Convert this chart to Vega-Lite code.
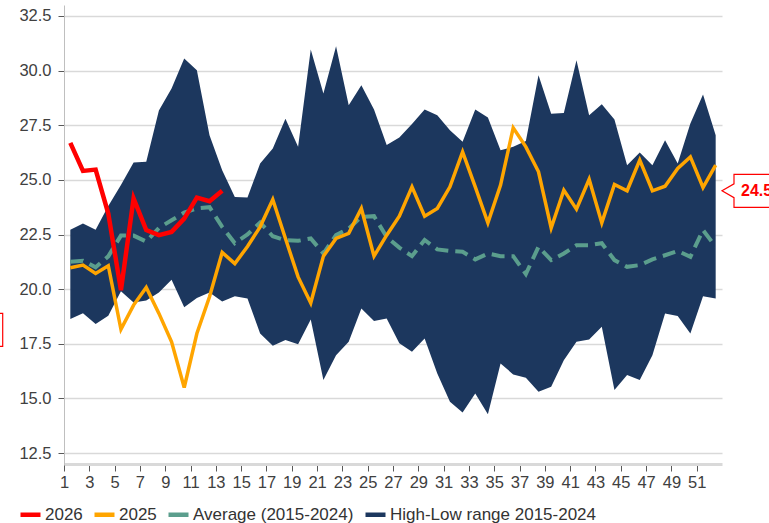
{
  "$schema": "https://vega.github.io/schema/vega-lite/v6.json",
  "width": 658,
  "height": 459,
  "autosize": "none",
  "padding": {"left": 64, "top": 5, "right": 47, "bottom": 59},
  "background": "white",
  "config": {"view": {"stroke": null}, "font": "Liberation Sans"},
  "datasets": {
    "weeks": [
      {"w":1,"lo":18.63,"hi":22.72,"avg":21.25,"y25":20.98,"y26":26.69},
      {"w":2,"lo":18.90,"hi":23.0,"avg":21.3,"y25":21.10,"y26":25.41},
      {"w":3,"lo":18.41,"hi":22.72,"avg":21.0,"y25":20.72,"y26":25.47},
      {"w":4,"lo":18.78,"hi":23.8,"avg":21.5,"y25":21.07,"y26":23.46},
      {"w":5,"lo":19.9,"hi":24.77,"avg":22.45,"y25":18.16,"y26":19.95},
      {"w":6,"lo":19.39,"hi":25.79,"avg":22.45,"y25":19.27,"y26":24.15},
      {"w":7,"lo":19.48,"hi":25.83,"avg":22.18,"y25":20.08,"y26":22.70},
      {"w":8,"lo":19.85,"hi":28.17,"avg":22.8,"y25":18.89,"y26":22.47},
      {"w":9,"lo":20.43,"hi":29.18,"avg":23.15,"y25":17.59,"y26":22.62},
      {"w":10,"lo":19.17,"hi":30.55,"avg":23.5,"y25":15.5,"y26":23.23},
      {"w":11,"lo":19.59,"hi":30.02,"avg":23.7,"y25":17.97,"y26":24.19},
      {"w":12,"lo":19.85,"hi":27.04,"avg":23.75,"y25":19.65,"y26":24.02},
      {"w":13,"lo":19.43,"hi":25.44,"avg":22.85,"y25":21.68,"y26":24.50},
      {"w":14,"lo":19.68,"hi":24.22,"avg":22.1,"y25":21.17,"y26":null},
      {"w":15,"lo":19.57,"hi":24.19,"avg":22.5,"y25":21.95,"y26":null},
      {"w":16,"lo":17.97,"hi":25.75,"avg":23.05,"y25":22.85,"y26":null},
      {"w":17,"lo":17.41,"hi":26.43,"avg":22.42,"y25":24.10,"y26":null},
      {"w":18,"lo":17.67,"hi":27.80,"avg":22.24,"y25":22.32,"y26":null},
      {"w":19,"lo":17.48,"hi":26.51,"avg":22.21,"y25":20.56,"y26":null},
      {"w":20,"lo":18.61,"hi":30.96,"avg":22.32,"y25":19.37,"y26":null},
      {"w":21,"lo":15.84,"hi":28.95,"avg":21.63,"y25":21.51,"y26":null},
      {"w":22,"lo":16.98,"hi":31.11,"avg":22.47,"y25":22.32,"y26":null},
      {"w":23,"lo":17.59,"hi":28.41,"avg":22.77,"y25":22.55,"y26":null},
      {"w":24,"lo":19.12,"hi":29.33,"avg":23.31,"y25":23.69,"y26":null},
      {"w":25,"lo":18.54,"hi":28.22,"avg":23.34,"y25":21.51,"y26":null},
      {"w":26,"lo":18.66,"hi":26.59,"avg":22.39,"y25":22.47,"y26":null},
      {"w":27,"lo":17.52,"hi":26.94,"avg":21.9,"y25":23.34,"y26":null},
      {"w":28,"lo":17.13,"hi":27.55,"avg":21.51,"y25":24.68,"y26":null},
      {"w":29,"lo":17.74,"hi":28.22,"avg":22.25,"y25":23.34,"y26":null},
      {"w":30,"lo":16.14,"hi":27.96,"avg":21.82,"y25":23.69,"y26":null},
      {"w":31,"lo":14.85,"hi":27.27,"avg":21.75,"y25":24.68,"y26":null},
      {"w":32,"lo":14.36,"hi":26.74,"avg":21.71,"y25":26.28,"y26":null},
      {"w":33,"lo":15.23,"hi":28.22,"avg":21.36,"y25":24.68,"y26":null},
      {"w":34,"lo":14.28,"hi":27.85,"avg":21.63,"y25":23.03,"y26":null},
      {"w":35,"lo":16.60,"hi":26.36,"avg":21.51,"y25":24.76,"y26":null},
      {"w":36,"lo":16.10,"hi":26.51,"avg":21.51,"y25":27.38,"y26":null},
      {"w":37,"lo":15.95,"hi":26.78,"avg":20.69,"y25":26.51,"y26":null},
      {"w":38,"lo":15.30,"hi":29.79,"avg":21.94,"y25":25.37,"y26":null},
      {"w":39,"lo":15.53,"hi":28.03,"avg":21.33,"y25":22.80,"y26":null},
      {"w":40,"lo":16.75,"hi":28.06,"avg":21.63,"y25":24.53,"y26":null},
      {"w":41,"lo":17.59,"hi":30.47,"avg":22.01,"y25":23.66,"y26":null},
      {"w":42,"lo":17.70,"hi":27.96,"avg":22.01,"y25":25.03,"y26":null},
      {"w":43,"lo":18.28,"hi":28.46,"avg":22.1,"y25":23.03,"y26":null},
      {"w":44,"lo":15.38,"hi":27.76,"avg":21.33,"y25":24.79,"y26":null},
      {"w":45,"lo":16.07,"hi":25.67,"avg":21.02,"y25":24.50,"y26":null},
      {"w":46,"lo":15.84,"hi":26.25,"avg":21.1,"y25":25.90,"y26":null},
      {"w":47,"lo":16.98,"hi":25.67,"avg":21.36,"y25":24.50,"y26":null},
      {"w":48,"lo":18.89,"hi":26.81,"avg":21.55,"y25":24.71,"y26":null},
      {"w":49,"lo":18.77,"hi":25.75,"avg":21.75,"y25":25.52,"y26":null},
      {"w":50,"lo":17.97,"hi":27.58,"avg":21.48,"y25":26.05,"y26":null},
      {"w":51,"lo":19.68,"hi":28.90,"avg":22.7,"y25":24.65,"y26":null},
      {"w":52,"lo":19.57,"hi":27.04,"avg":21.94,"y25":25.67,"y26":null}
    ],
    "callR": [{"w": 52.5, "v": 24.5, "label": "24.5"}],
    "callL": [{"w": 0.5, "v": 18.14}]
  },
  "data": {"name": "weeks"},
  "encoding": {
    "x": {
      "field": "w", "type": "quantitative",
      "scale": {"domain": [0.5, 52.5], "nice": false, "zero": false},
      "axis": {
        "title": null,
        "values": [0.5,2.5,4.5,6.5,8.5,10.5,12.5,14.5,16.5,18.5,20.5,22.5,24.5,26.5,28.5,30.5,32.5,34.5,36.5,38.5,40.5,42.5,44.5,46.5,48.5,50.5],
        "labelExpr": "format(datum.value + 0.5, 'd')",
        "grid": false,
        "domainColor": "#d9d9d9", "domainWidth": 3,
        "tickColor": "#595959", "tickSize": 7, "tickWidth": 1,
        "labelFontSize": 16.5, "labelColor": "#404040", "labelPadding": 3,
        "labelFlush": false, "labelOverlap": false
      }
    }
  },
  "layer": [
    {
      "mark": {"type": "area", "opacity": 1},
      "encoding": {
        "y": {
          "field": "lo", "type": "quantitative", "title": null,
          "scale": {"domain": [12, 33], "nice": false, "zero": false},
          "axis": {
            "values": [12.5,15,17.5,20,22.5,25,27.5,30,32.5],
            "format": ".1f",
            "grid": true, "gridColor": "#d9d9d9", "gridWidth": 1.5,
            "domainColor": "#bfbfbf", "domainWidth": 1,
            "tickColor": "#595959", "tickSize": 6,
            "labelFontSize": 16.5, "labelColor": "#404040", "labelPadding": 7,
            "labelFlush": false
          }
        },
        "y2": {"field": "hi"},
        "color": {
          "datum": "High-Low range 2015-2024",
          "scale": {
            "domain": ["2026", "2025", "Average (2015-2024)", "High-Low range 2015-2024"],
            "range": ["#ff0000", "#ffa500", "#5b9e8d", "#1c375e"]
          },
          "legend": {
            "title": null,
            "orient": "none",
            "direction": "horizontal",
            "legendX": -46,
            "legendY": 497,
            "padding": 0,
            "columnPadding": 2,
            "labelOffset": 2,
            "labelFontSize": 17,
            "labelLimit": 400,
            "labelColor": "#333333",
            "labelFont": "Liberation Sans",
            "labelExpr": "datum.value === 'Average (2015-2024)' ? '\u00a0\u00a0\u00a0' + datum.value : datum.value",
            "symbolType": "stroke",
            "symbolSize": 400,
            "symbolStrokeWidth": 4.5,
            "encode": {
              "symbols": {
                "update": {
                  "shape": {"signal": "datum.value === 'High-Low range 2015-2024' ? 'square' : datum.value === 'Average (2015-2024)' ? 'M-1.2,0H0M1.2,0H2.5' : 'stroke'"},
                  "size": {"signal": "datum.value === 'High-Low range 2015-2024' ? 110 : 400"},
                  "strokeWidth": {"signal": "datum.value === 'High-Low range 2015-2024' ? 0 : 4.5"},
                  "fill": {"signal": "datum.value === 'High-Low range 2015-2024' ? '#1c375e' : 'transparent'"},
                  "stroke": {"scale": "color", "field": "value"},
                  "opacity": {"value": 1}
                }
              }
            }
          }
        }
      }
    },
    {
      "mark": {"type": "line", "strokeWidth": 4, "strokeDash": [13, 7]},
      "encoding": {
        "y": {"field": "avg", "type": "quantitative", "title": null},
        "color": {"datum": "Average (2015-2024)"}
      }
    },
    {
      "mark": {"type": "line", "strokeWidth": 3.5},
      "encoding": {
        "y": {"field": "y25", "type": "quantitative", "title": null},
        "color": {"datum": "2025"}
      }
    },
    {
      "mark": {"type": "line", "strokeWidth": 4.5},
      "encoding": {
        "y": {"field": "y26", "type": "quantitative", "title": null},
        "color": {"datum": "2026"}
      }
    },
    {
      "data": {"name": "callR"},
      "mark": {
        "type": "point",
        "shape": "M0,0L0.727,-0.42L0.727,-1L4.5,-1L4.5,1L0.727,1L0.727,0.42Z",
        "size": 1089, "filled": true, "fill": "white", "stroke": "#ff0000",
        "strokeWidth": 1.2, "opacity": 1, "fillOpacity": 1, "strokeOpacity": 1
      },
      "encoding": {
        "y": {"field": "v", "type": "quantitative", "title": null}
      }
    },
    {
      "data": {"name": "callR"},
      "mark": {
        "type": "text", "align": "left", "baseline": "middle", "dx": 19,
        "fontSize": 16, "fontWeight": "bold", "color": "#ff0000", "font": "Liberation Sans"
      },
      "encoding": {
        "y": {"field": "v", "type": "quantitative", "title": null},
        "text": {"field": "label"}
      }
    },
    {
      "data": {"name": "callL"},
      "mark": {
        "type": "point",
        "shape": "M-8,-1L-3.715,-1L-3.715,1L-8,1Z",
        "size": 1089, "filled": true, "fill": "white", "stroke": "#ff0000",
        "strokeWidth": 1.2, "opacity": 1, "fillOpacity": 1, "strokeOpacity": 1
      },
      "encoding": {
        "y": {"field": "v", "type": "quantitative", "title": null}
      }
    }
  ]
}
